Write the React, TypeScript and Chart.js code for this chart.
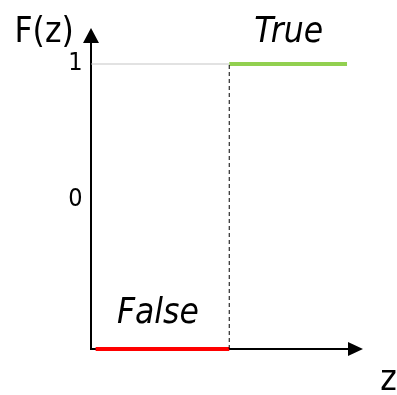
import React, { useEffect, useRef } from "react";
import { Chart, registerables } from "chart.js";

Chart.register(...registerables);

// Step function F(z): False below threshold, True above
const falseZ = [-0.97, 0];
const falseF = [-1.1, -1.1];
const trueZ = [0, 0.855];
const trueF = [1, 1];
const thresholdZ = [0, 0];
const thresholdF = [-1.1, 1];
const guideZ = [-1, 0];
const guideF = [1, 1];

const yTickValues = [0, 1];
const yTickLabels = ["0", "1"];

const labelTexts = ["F(z)", "True", "False", "z"];
const labelZ = [-1.344, 0.431, -0.518, 1.156];
const labelF = [1.162, 1.162, -0.908, -1.402];
const labelItalic = [false, true, true, false];

const FONT = '"DejaVu Sans Condensed", "DejaVu Sans", sans-serif';

const pts = (xs: number[], ys: number[]) => xs.map((x, i) => ({ x, y: ys[i] }));

const axesPlugin = {
  id: "arrowAxes",
  beforeDatasetsDraw(chart: any) {
    const { ctx, chartArea, scales } = chart;
    const x0 = Math.floor(scales.x.getPixelForValue(scales.x.min));
    const y0 = Math.round(scales.y.getPixelForValue(scales.y.min));
    const xEnd = chartArea.right;
    const yEnd = chartArea.top;
    ctx.save();
    ctx.strokeStyle = "#000";
    ctx.fillStyle = "#000";
    ctx.lineWidth = 2;
    ctx.beginPath();
    ctx.moveTo(x0, y0 + 1);
    ctx.lineTo(x0, yEnd + 10);
    ctx.moveTo(x0 - 1, y0);
    ctx.lineTo(xEnd - 10, y0);
    ctx.stroke();
    // y arrow
    ctx.beginPath();
    ctx.moveTo(x0, yEnd);
    ctx.lineTo(x0 - 8, yEnd + 15);
    ctx.lineTo(x0 + 8, yEnd + 15);
    ctx.closePath();
    ctx.fill();
    // x arrow
    ctx.beginPath();
    ctx.moveTo(xEnd, y0);
    ctx.lineTo(xEnd - 15, y0 - 7);
    ctx.lineTo(xEnd - 15, y0 + 7);
    ctx.closePath();
    ctx.fill();
    ctx.restore();
  },
  afterDraw(chart: any) {
    const { ctx, scales } = chart;
    ctx.save();
    ctx.fillStyle = "#000";
    ctx.textAlign = "center";
    ctx.textBaseline = "alphabetic";
    labelTexts.forEach((t, i) => {
      ctx.font = `${labelItalic[i] ? "italic " : ""}35px ${FONT}`;
      ctx.fillText(t, scales.x.getPixelForValue(labelZ[i]), scales.y.getPixelForValue(labelF[i]));
    });
    ctx.restore();
  },
};

export default function App() {
  const ref = useRef<HTMLCanvasElement>(null);
  useEffect(() => {
    if (!ref.current) return;
    const chart = new Chart(ref.current, {
      type: "scatter",
      data: {
        datasets: [
          {
            data: pts(guideZ, guideF),
            showLine: true,
            borderColor: "#d9d9d9",
            borderWidth: 1.5,
            pointRadius: 0,
            clip: false,
          },
          {
            data: pts(thresholdZ, thresholdF),
            showLine: true,
            borderColor: "#000",
            borderWidth: 1,
            borderDash: [4, 3],
            pointRadius: 0,
            clip: false,
          },
          {
            data: pts(falseZ, falseF),
            showLine: true,
            borderColor: "#ff0000",
            borderWidth: 4,
            pointRadius: 0,
            clip: false,
          },
          {
            data: pts(trueZ, trueF),
            showLine: true,
            borderColor: "#92d050",
            borderWidth: 4,
            pointRadius: 0,
            clip: false,
          },
        ],
      },
      options: {
        responsive: false,
        animation: false,
        layout: { padding: { left: 0, right: 34, top: 28, bottom: 46 } },
        plugins: { legend: { display: false }, tooltip: { enabled: false } },
        scales: {
          x: { type: "linear", min: -1, max: 0.971, display: false },
          y: {
            type: "linear",
            min: -1.1,
            max: 1.265,
            grid: { display: false, drawTicks: false },
            border: { display: false },
            afterBuildTicks: (scale: any) => {
              scale.ticks = yTickValues.map((v) => ({ value: v }));
            },
            afterFit: (scale: any) => {
              scale.width = 91.5;
            },
            ticks: {
              padding: 9,
              color: "#000",
              font: { size: 25, family: FONT },
              callback: (v: any) => yTickLabels[yTickValues.indexOf(Number(v))],
            },
          },
        },
      },
      plugins: [axesPlugin],
    });
    return () => chart.destroy();
  }, []);
  return (
    <div style={{ position: "fixed", left: 0, top: 0, width: 397, height: 395, background: "#fff" }}>
      <canvas ref={ref} width={397} height={395} style={{ display: "block" }} />
    </div>
  );
}
